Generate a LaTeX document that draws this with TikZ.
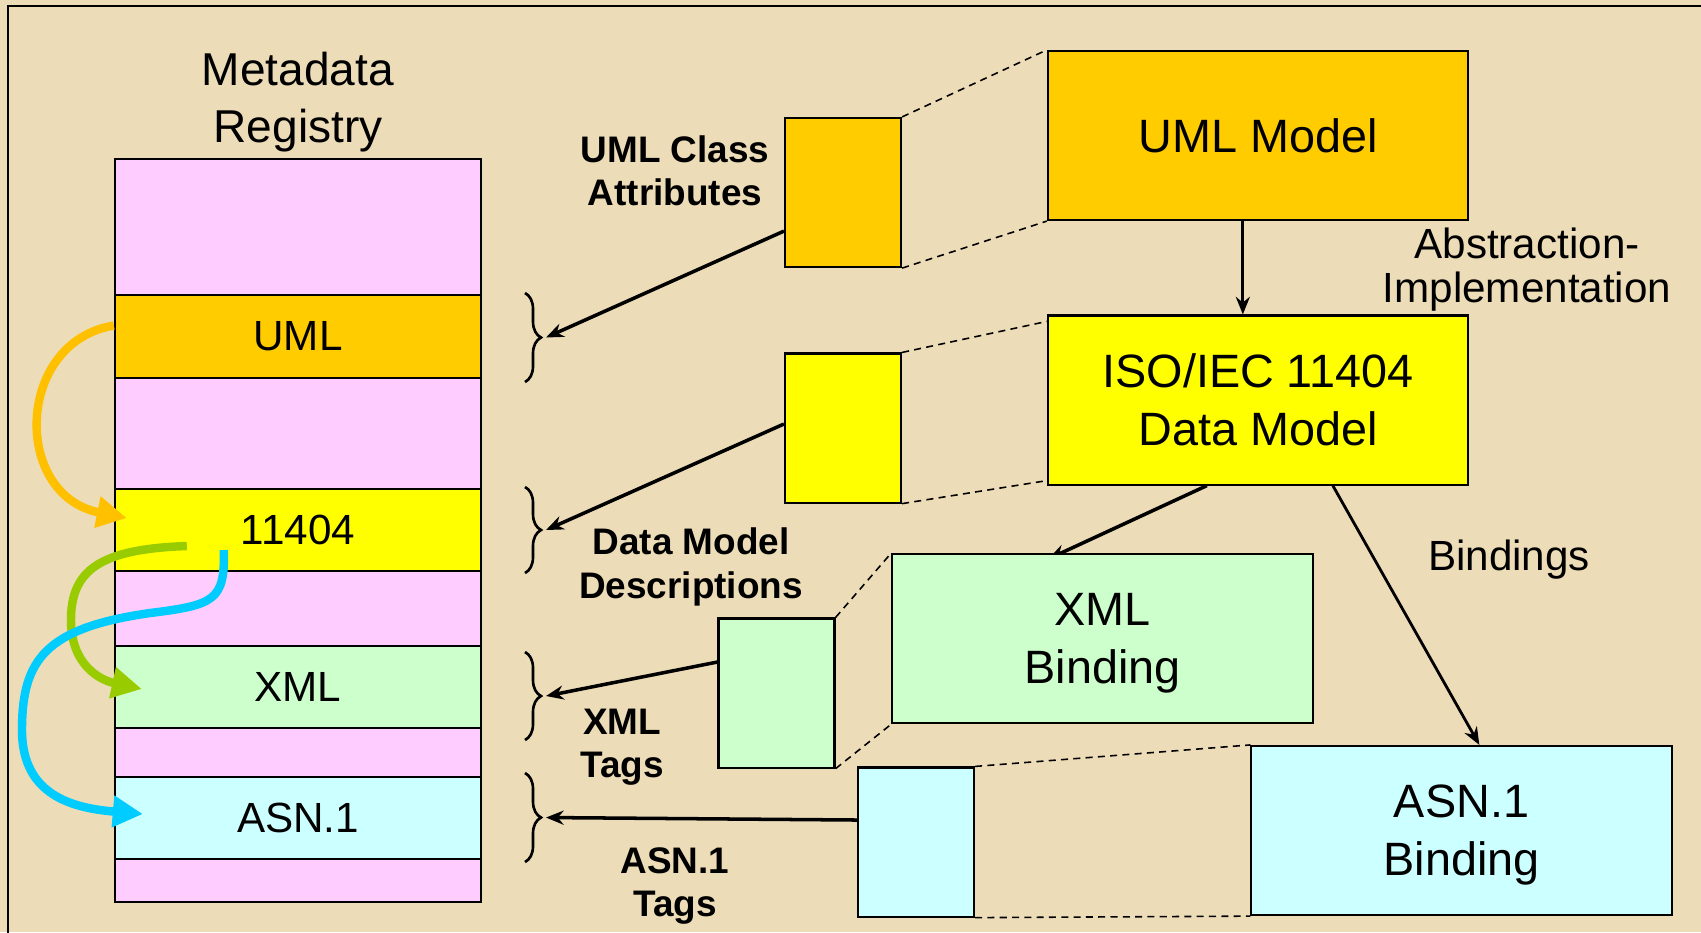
\documentclass[tikz,border=0pt]{standalone}
\usepackage{fontspec}
\setmainfont{Liberation Sans}
\usepackage{tikz}
\usetikzlibrary{arrows,arrows.meta,positioning,backgrounds,calc,decorations.pathreplacing}
\definecolor{parch}{RGB}{236,220,183}
\definecolor{umlorange}{HTML}{FFCC00}
\definecolor{isoyellow}{HTML}{FFFF00}
\definecolor{xmlgreen}{HTML}{CCFFCC}
\definecolor{asncyan}{HTML}{CCFFFF}
\definecolor{regpink}{HTML}{FFCCFF}
\definecolor{flowor}{HTML}{FFC000}
\definecolor{flowgr}{HTML}{99CC00}
\definecolor{flowcy}{HTML}{00CCFF}

\begin{document}
\begin{tikzpicture}[x=0.01cm, y=-0.01cm, >={Stealth[length=5pt,width=4pt]},
   box/.style={draw, line width=0.6pt, inner sep=0pt},
   band/.style={box, minimum width=3.66cm, font=\fontsize{12}{14}\selectfont},
   bigbox/.style={box, minimum width=4.2cm, minimum height=1.69cm, align=center,
     text depth=0pt, font=\fontsize{13.3}{16.5}\selectfont},
   tagbox/.style={box, minimum width=1.16cm, minimum height=1.49cm},
   blabel/.style={align=center, font=\fontsize{10.5}{12.3}\selectfont\bfseries},
   plabel/.style={align=center, font=\fontsize{12}{12.5}\selectfont},
   link/.style={line width=0.45pt, dash pattern=on 2pt off 1.5pt},
   tagarrow/.style={->, line width=1pt},
   regbrace/.style={decorate, decoration={brace, amplitude=0.16cm}, line width=0.75pt},
   flow/.style={line width=2.4pt, -{Triangle[length=0.3cm,width=0.3cm]}}]
  \useasboundingbox (0,0) rectangle (1701,932);
  \begin{pgfonlayer}{background}
    \fill[parch] (0,0) rectangle (1701,932);
  \end{pgfonlayer}
  \clip (0,0) rectangle (1701,932);
  \draw[line width=0.6pt] (8,6) rectangle (1760,990);

  % registry column
  \node[font=\fontsize{13.1}{16.2}\selectfont, align=center] (title) at (298,102) {Metadata\\Registry};
  \node[band, fill=regpink, minimum height=1.36cm] (p1) at (298,227) {};
  \node[band, fill=umlorange, minimum height=0.83cm] (ruml) at (298,336.5) {UML};
  \node[band, fill=regpink, minimum height=1.11cm] (p2) at (298,433.5) {};
  \node[band, fill=isoyellow, minimum height=0.82cm] (riso) at (298,530) {11404};
  \node[band, fill=regpink, minimum height=0.75cm] (p3) at (298,608.5) {};
  \node[band, fill=xmlgreen, minimum height=0.82cm] (rxml) at (298,687) {XML};
  \node[band, fill=regpink, minimum height=0.49cm] (p4) at (298,752.5) {};
  \node[band, fill=asncyan, minimum height=0.82cm] (rasn) at (298,818) {ASN.1};
  \node[band, fill=regpink, minimum height=0.43cm] (p5) at (298,880.5) {};

  % models
  \node[bigbox, fill=umlorange] (umlmodel) at (1258,135.5) {UML Model};
  \node[bigbox, fill=isoyellow] (iso) at (1258,400) {ISO/IEC 11404\\Data Model};
  \node[bigbox, fill=xmlgreen] (xmlbind) at (1102.5,638.5) {XML\\Binding};
  \node[bigbox, fill=asncyan] (asnbind) at (1461.5,830.5) {ASN.1\\Binding};

  \node[tagbox, fill=umlorange] (attr) at (843,192.5) {};
  \node[tagbox, fill=isoyellow] (dmd) at (843,428) {};
  \node[tagbox, fill=xmlgreen] (xtag) at (776.5,693) {};
  \node[tagbox, fill=asncyan] (atag) at (916,842) {};

  \node[blabel] (attrlbl) at (675,171) {UML Class\\Attributes};
  \node[blabel] (dmdlbl) at (691,567) {Data Model\\Descriptions};
  \node[blabel] (xtaglbl) at (622,747) {XML\\Tags};
  \node[blabel] (ataglbl) at (675,886) {ASN.1\\Tags};
  \node[plabel] (abslbl) at (1527,270) {Abstraction-\\Implementation};
  \node[plabel, anchor=base] (bindlbl) at (1509,570) {Bindings};

  % braces
  \draw[regbrace] (525,293) -- (525,382);
  \draw[regbrace] (525,487) -- (525,573);
  \draw[regbrace] (525,652) -- (525,740);
  \draw[regbrace] (525,773) -- (525,862);
  \coordinate (bt1) at (546,337.5);
  \coordinate (bt2) at (546,530);
  \coordinate (bt3) at (546,696);
  \coordinate (bt4) at (546,817.5);

  \draw[tagarrow] ($(attr.south west)+(0,-37)$) -- (bt1);
  \draw[tagarrow] ($(dmd.west)+(0,-4)$) -- (bt2);
  \draw[tagarrow] ($(xtag.west)+(0,-31)$) -- (bt3);
  \draw[tagarrow] ($(atag.west)+(0,-22)$) -- (bt4);

  \draw[link] (attr.north east) -- (umlmodel.north west);
  \draw[link] (attr.south east) -- (umlmodel.south west);
  \draw[link] (dmd.north east) -- ($(iso.north west)+(0,7)$);
  \draw[link] (dmd.south east) -- ($(iso.south west)+(0,-5)$);
  \draw[link] (xtag.north east) -- (xmlbind.north west);
  \draw[link] (xtag.south east) -- (xmlbind.south west);
  \draw[link] (atag.north east) -- (asnbind.north west);
  \draw[link] (atag.south east) -- (asnbind.south west);

  \draw[->, line width=0.8pt] ($(umlmodel.south west)+(196,0)$) -- ($(iso.north west)+(196,0)$);
  \draw[->, line width=0.8pt] ($(iso.south west)+(286,0)$) -- ($(asnbind.north west)+(229,0)$);
  \begin{pgfonlayer}{background}
    \draw[->, line width=1pt] ($(iso.south west)+(160,0)$) -- ($(xmlbind.north west)+(157,6)$);
  \end{pgfonlayer}

  % registry flows
  \draw[flow, flowor] ($(ruml.west)+(0,-11)$) .. controls (15,342) and (12,495) .. ($(riso.west)+(13,-12)$);
  \draw[flow, flowgr] ($(riso.west)+(73,16)$) .. controls (100,549) and (71,570) .. (71,620)
     .. controls (71,665) and (100,680) .. ($(rxml.west)+(28,2)$);
  \draw[flow, flowcy] ($(riso.west)+(110,20)$) .. controls (225,600) and (215,605) .. (150,613)
     .. controls (45,628) and (22,660) .. (22,730) .. controls (22,795) and (72,808) .. ($(rasn.west)+(29,-4)$);
\end{tikzpicture}
\end{document}
